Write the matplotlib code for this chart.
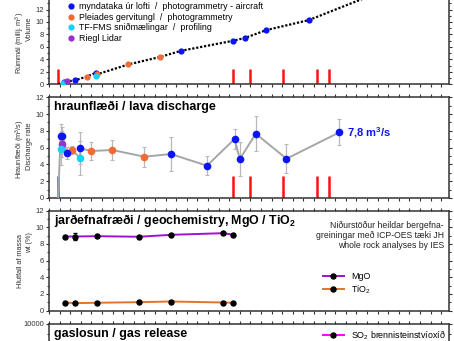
import numpy as np
import matplotlib
matplotlib.use('Agg')
import matplotlib.pyplot as plt
from matplotlib.ticker import MultipleLocator, FuncFormatter

plt.rcParams['font.family'] = ['Liberation Sans', 'DejaVu Sans']
plt.rcParams['mathtext.fontset'] = 'custom'
plt.rcParams['mathtext.rm'] = 'Liberation Sans'
plt.rcParams['mathtext.bf'] = 'Liberation Sans:bold'

# days since 19 March 2021 00:00
eruption_start = 0.86
new_vents = [0.82, 17.4, 18.96, 22.06, 25.3, 26.4]

# volume (million m3)
vol_air_days = [1.44, 2.48, 4.40, 12.45, 17.4, 18.5, 20.5, 24.5, 30.3]
vol_air = [0.37, 0.65, 1.82, 5.37, 7.0, 7.45, 8.7, 10.3, 14.2]
vol_pl_days = [3.56, 4.53, 7.48, 10.5]
vol_pl = [1.24, 1.6, 3.18, 4.4]
vol_fms_days = [1.35, 4.4]
vol_fms = [0.2, 1.4]
vol_lidar_days = [1.67]
vol_lidar = [0.48]

# discharge (m3/s)
dis_air_days = [1.1, 1.26, 1.67, 2.95, 11.5, 14.9, 17.5, 18.0, 19.5, 22.4, 27.4]
dis_air = [7.42, 7.42, 5.36, 5.92, 5.24, 3.85, 7.03, 4.65, 7.66, 4.68, 7.83]
dis_air_err = [1.4, 1.0, 0.7, 1.9, 2.0, 1.1, 1.2, 2.0, 2.1, 1.7, 1.55]
dis_pl_days = [2.2, 4.0, 5.97, 9.0]
dis_pl = [5.72, 5.6, 5.72, 4.92]
dis_pl_err = [0.5, 1.1, 1.2, 1.2]
dis_fms_days = [1.13, 2.92]
dis_fms = [5.88, 4.77]
dis_fms_err = [2.0, 2.0]
dis_lidar_days = [1.26]
dis_lidar = [6.43]
dis_lidar_err = [1.6]

# geochemistry (wt %)
chem_days = [1.5, 2.45, 4.5, 8.5, 11.5, 16.45, 17.4]
mgo = [8.88, 8.88, 8.92, 8.85, 9.08, 9.28, 9.08]
mgo_err = [0, 0.4, 0, 0, 0, 0, 0]
tio2 = [0.96, 0.88, 0.93, 1.0, 1.08, 0.96, 0.93]

c_air = '#0a14f5'
c_pl = '#f26a35'
c_fms = '#1ad0f5'
c_lidar = '#9b2fc9'

W, H = 454, 341
fig = plt.figure(figsize=(W / 100, H / 100), dpi=100)


def box(top, bottom, left=49, right=448.7):
    return [left / W, 1 - bottom / H, (right - left) / W, (bottom - top) / H]


def style(ax, ymax, ystep, labmin=None, labmax=None):
    ax.set_xlim(0, 37.7)
    ax.set_ylim(0, ymax)
    ax.xaxis.set_major_locator(MultipleLocator(1))
    ax.yaxis.set_major_locator(MultipleLocator(ystep))
    ax.yaxis.set_minor_locator(MultipleLocator(ystep / 2))
    lo = -1e18 if labmin is None else labmin
    hi = 1e18 if labmax is None else labmax
    ax.yaxis.set_major_formatter(FuncFormatter(
        lambda v, p: '%d' % v if lo - 1e-9 <= v <= hi + 1e-9 else ''))
    ax.tick_params(axis='x', which='both', direction='out', top=True, bottom=True,
                   labelbottom=False, length=2.5, width=0.8, color='#333333')
    ax.tick_params(axis='y', which='major', direction='out', right=True, length=2.5,
                   width=0.8, labelsize=5.5, pad=1, color='#333333', labelcolor='#333333')
    ax.tick_params(axis='y', which='minor', direction='out', right=True, length=1.5,
                   width=0.8, color='#333333')
    for s in ax.spines.values():
        s.set_linewidth(1.1)
        s.set_color('#333333')


def ylab(x, y, s):
    fig.text(x / W, 1 - y / H, s, rotation=90, ha='center', va='center',
             fontsize=5.3, color='#333333')


# ---- panel 1: volume
ax1 = fig.add_axes(box(-15.4, 84.3))
style(ax1, 16, 2, labmax=12)
ax1.vlines(new_vents, 0, 2.5, color='#ff1010', lw=1.8, zorder=2)
ld = np.r_[eruption_start, vol_air_days, vol_pl_days]
lv = np.r_[0, vol_air, vol_pl]
o = np.argsort(ld)
ax1.plot(ld[o], lv[o], color='black', lw=1.6, ls=(0, (1, 0.8)), zorder=3)
ax1.plot(vol_air_days, vol_air, 'o', color=c_air, ms=4.5, mec='none', zorder=4,
         label='myndataka úr lofti  /  photogrammetry - aircraft')
ax1.plot(vol_pl_days, vol_pl, 'o', color=c_pl, ms=4.5, mec='none', zorder=4,
         label='Pleiades gervitungl  /  photogrammetry')
ax1.plot(vol_fms_days, vol_fms, 'o', color=c_fms, ms=4.5, mec='none', zorder=4,
         label='TF-FMS sniðmælingar  /  profiling')
ax1.plot(vol_lidar_days, vol_lidar, 'o', color=c_lidar, ms=4.5, mec='none', zorder=4,
         label='Riegl Lidar')
ax1.legend(loc='upper left', bbox_to_anchor=(0.049, 0.825), frameon=False, fontsize=6.4,
           handlelength=0.6, handletextpad=0.6, labelspacing=0.18, borderpad=0,
           borderaxespad=0, markerscale=1.0)
ylab(20, 42.5, 'Rúmmál (millj. m$^3$)')
ylab(29.5, 29, 'Volume')

# ---- panel 2: discharge
ax2 = fig.add_axes(box(97.3, 198))
style(ax2, 12, 2)
ax2.vlines(new_vents, 0, 2.65, color='#ff1010', lw=1.8, zorder=2)
ld = np.r_[eruption_start, dis_air_days, dis_pl_days, dis_fms_days[1:]]
lv = np.r_[0, dis_air, dis_pl, dis_fms[1:]]
o = np.argsort(ld, kind='stable')
ax2.plot(ld[o], lv[o], color='#a6a6a6', lw=1.4, zorder=3)
for d, v, e, c in [(dis_lidar_days, dis_lidar, dis_lidar_err, c_lidar),
                   (dis_fms_days, dis_fms, dis_fms_err, c_fms),
                   (dis_pl_days, dis_pl, dis_pl_err, c_pl),
                   (dis_air_days, dis_air, dis_air_err, c_air)]:
    ax2.errorbar(d, v, yerr=e, fmt='none', ecolor='#b8b8b8', elinewidth=0.9,
                 capsize=1.5, capthick=0.8, zorder=2.5)
    ax2.plot(d, v, 'o', color=c, ms=5.5, mec='none', zorder=4)
ax2.text(dis_air_days[-1] + 0.75, dis_air[-1], '7,8 m$^\\mathbf{3}$/s', color=c_air,
         fontsize=8, fontweight='bold', va='center', ha='left')
ax2.text(0.012, 0.9, 'hraunflæði / lava discharge', transform=ax2.transAxes,
         fontsize=8.9, fontweight='bold', va='center', ha='left')
ylab(20, 149, 'Hraunflæði (m$^3$/s)')
ylab(29.5, 146, 'Discharge rate')

# ---- panel 3: geochemistry
ax3 = fig.add_axes(box(210.5, 310.5))
style(ax3, 12, 2)
h_mgo = ax3.errorbar(chem_days, mgo, yerr=mgo_err, color='#a010d8', lw=1.4, marker='o',
                     ms=3.6, mfc='black', mec='black', ecolor='black', elinewidth=0.8,
                     capsize=1.5)
h_tio2, = ax3.plot(chem_days, tio2, color='#e0742e', lw=1.4, marker='o', ms=3.6,
                   mfc='black', mec='black')
ax3.text(0.012, 0.9, 'jarðefnafræði / geochemistry, MgO / TiO$_\\mathbf{2}$',
         transform=ax3.transAxes, fontsize=8.9, fontweight='bold', va='center', ha='left')
ax3.text(0.988, 0.9, 'Niðurstöður heildar bergefna-\ngreiningar með ICP-OES tæki JH\n'
         'whole rock analyses by IES', transform=ax3.transAxes, fontsize=6.2,
         va='top', ha='right', ma='right', linespacing=1.15, color='#222222')
ax3.legend([h_mgo[0], h_tio2], ['MgO', 'TiO$_2$'], loc='upper left',
           bbox_to_anchor=(0.685, 0.385), frameon=False, fontsize=6.4,
           handlelength=2.4, handletextpad=0.8, labelspacing=0.25, borderpad=0,
           borderaxespad=0)
ylab(20, 261, 'Hlutfall af massa')
ylab(29.5, 243, 'wt (%)')

# ---- panel 4: gas release
ax4 = fig.add_axes(box(324, 424))
style(ax4, 10000, 2000, labmin=10000)
ax4.plot([], [], color='#ff00ff', lw=1.4, marker='o', ms=3.6, mfc='black', mec='black',
         label='SO$_2$ brennisteinstvíoxíð')
ax4.text(0.012, 0.9, 'gaslosun / gas release', transform=ax4.transAxes,
         fontsize=8.9, fontweight='bold', va='center', ha='left')
ax4.legend(loc='upper left', bbox_to_anchor=(0.685, 0.96), frameon=False, fontsize=6.4,
           handlelength=2.4, handletextpad=0.8, borderpad=0, borderaxespad=0)

fig.savefig('out.png', dpi=100)
